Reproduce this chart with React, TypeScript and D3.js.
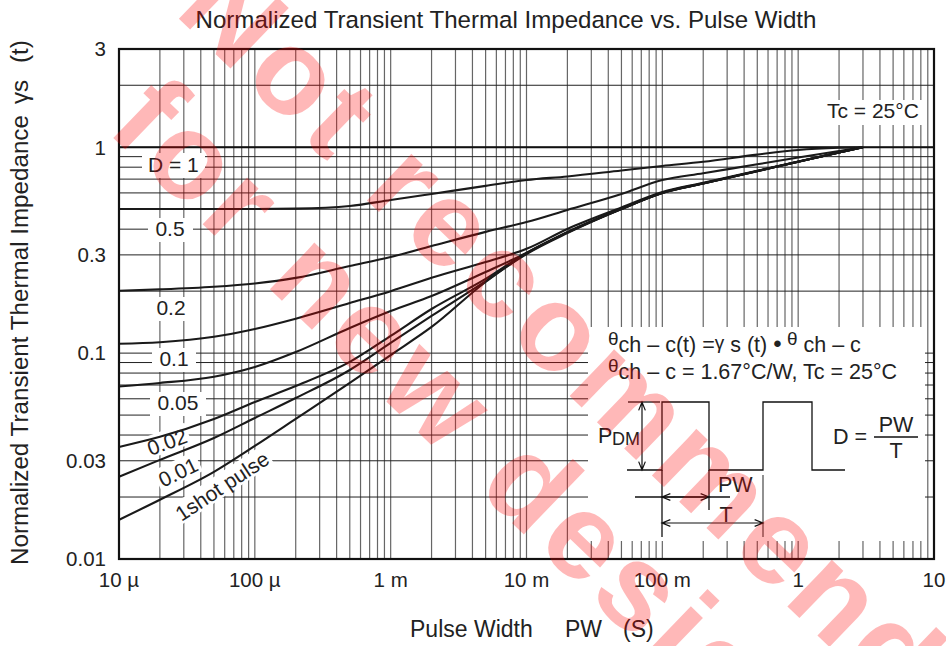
import * as d3 from "d3";

// pulse widths (s) the curves were read at
const pulseWidths = [1e-5, 2e-5, 5e-5, 1e-4, 2e-4, 5e-4, 1e-3, 2e-3, 5e-3, 1e-2, 2e-2, 5e-2, 0.1, 0.2, 0.5, 1, 2, 3];

const dutyHalf = [0.501, 0.501, 0.501, 0.501, 0.503, 0.518, 0.554, 0.593, 0.649, 0.693, 0.721, 0.771, 0.811, 0.85, 0.921, 0.97, 0.994, 1];
const dutyFifth = [0.201, 0.204, 0.21, 0.218, 0.232, 0.265, 0.293, 0.331, 0.388, 0.433, 0.496, 0.593, 0.693, 0.748, 0.826, 0.891, 0.959, 1];
const dutyTenth = [0.111, 0.113, 0.12, 0.131, 0.147, 0.175, 0.2, 0.232, 0.277, 0.321, 0.401, 0.51, 0.606, 0.672, 0.769, 0.852, 0.944, 1];
const duty005 = [0.0689, 0.0716, 0.0768, 0.0856, 0.1012, 0.1325, 0.1602, 0.1894, 0.2478, 0.3064, 0.388, 0.503, 0.601, 0.668, 0.766, 0.851, 0.943, 1];
const duty002 = [0.035, 0.0392, 0.0479, 0.0579, 0.0692, 0.0906, 0.1212, 0.1638, 0.2293, 0.307, 0.386, 0.502, 0.6, 0.667, 0.766, 0.85, 0.943, 1];
const duty001 = [0.0251, 0.0303, 0.0387, 0.0484, 0.0605, 0.0828, 0.112, 0.1515, 0.2238, 0.305, 0.385, 0.501, 0.599, 0.666, 0.765, 0.85, 0.943, 1];
const singleShot = [0.0155, 0.0194, 0.0265, 0.0354, 0.0479, 0.0716, 0.0979, 0.134, 0.2216, 0.303, 0.383, 0.501, 0.599, 0.666, 0.765, 0.85, 0.943, 1];

// D = 1 is flat across the whole range
const dutyOneWidths = [1e-5, 10];
const dutyOne = [1, 1];

const xTickValues = [1e-5, 1e-4, 1e-3, 1e-2, 1e-1, 1, 10];
const xTickLabels = ["10 µ", "100 µ", "1 m", "10 m", "100 m", "1", "10"];
const yTickValues = [3, 1, 0.3, 0.1, 0.03, 0.01];
const yTickLabels = ["3", "1", "0.3", "0.1", "0.03", "0.01"];

const W = 946;
const H = 646;
const PLOT = { left: 119, right: 934, top: 49, bottom: 559 };
const FONT = "'Liberation Sans', Arial, sans-serif";

const x = d3.scaleLog().domain([1e-5, 10]).range([PLOT.left, PLOT.right]);
const y = d3.scaleLog().domain([0.01, 3]).range([PLOT.bottom, PLOT.top]);

const series = [dutyHalf, dutyFifth, dutyTenth, duty005, duty002, duty001, singleShot];

const line = d3
  .line<number>()
  .x((_, i) => x(pulseWidths[i]))
  .y((v) => y(v))
  .curve(d3.curveMonotoneX);

// curve labels: straight ones get a box, slanted ones get rotated
const flatLabels = [
  { text: "D = 1", x: 148, y: 172, anchor: "start", box: [142, 153, 63, 25] },
  { text: "0.5", x: 170, y: 236, anchor: "middle", box: [148, 218, 45, 24] },
  { text: "0.2", x: 171, y: 315, anchor: "middle", box: [148, 297, 45, 24] },
  { text: "0.1", x: 174, y: 366, anchor: "middle", box: [152, 348, 44, 24] },
  { text: "0.05", x: 178, y: 410, anchor: "middle", box: [150, 392, 56, 24] },
];
const slantLabels = [
  { text: "0.02", cx: 167, cy: 442, angle: -20, w: 46 },
  { text: "0.01", cx: 178, cy: 472, angle: -26, w: 46 },
  { text: "1shot pulse", cx: 222, cy: 486, angle: -33.5, w: 112 },
];

function Arrow({ x1, y1, x2, y2 }: { x1: number; y1: number; x2: number; y2: number }) {
  // shaft plus open V heads at both ends
  const a = Math.atan2(y2 - y1, x2 - x1);
  const L = 9;
  const s = 0.38;
  const head = (px: number, py: number, dir: number) =>
    `M${px + L * Math.cos(dir + s)},${py + L * Math.sin(dir + s)}L${px},${py}L${px + L * Math.cos(dir - s)},${py + L * Math.sin(dir - s)}`;
  return (
    <path
      d={`M${x1},${y1}L${x2},${y2}` + head(x1, y1, a) + head(x2, y2, a + Math.PI)}
      fill="none"
      stroke="#111"
      strokeWidth={1.2}
    />
  );
}

export default function App() {
  const gridX = x.ticks().filter((t) => t > 1e-5 * 1.001 && t < 9.99);
  const gridY = y.ticks().filter((t) => t > 0.01 * 1.001 && t < 2.99);

  return (
    <>
      <style>{`body{margin:0}`}</style>
      <svg width={W} height={H} style={{ display: "block", background: "#fff" }} fontFamily={FONT}>
        <text x={506} y={28} textAnchor="middle" fontSize={24.1} fill="#222">
          Normalized Transient Thermal Impedance vs. Pulse Width
        </text>

        {/* grid */}
        {gridX.map((t) => (
          <line key={"gx" + t} x1={x(t)} x2={x(t)} y1={PLOT.top} y2={PLOT.bottom} stroke="#666" strokeWidth={1.2} />
        ))}
        {gridY.map((t) => (
          <line key={"gy" + t} x1={PLOT.left} x2={PLOT.right} y1={y(t)} y2={y(t)} stroke="#222" strokeWidth={1} />
        ))}

        {/* inset area blanks the grid */}
        <rect x={588} y={327} width={337} height={214} fill="#fff" />
        <rect x={824} y={100} width={101} height={25} fill="#fff" />

        {flatLabels.map((l) => (
          <rect key={"b" + l.text} x={l.box[0]} y={l.box[1]} width={l.box[2]} height={l.box[3]} fill="#fff" />
        ))}
        {slantLabels.map((l) => (
          <rect
            key={"b" + l.text}
            x={-l.w / 2}
            y={-12}
            width={l.w}
            height={22}
            fill="#fff"
            transform={`translate(${l.cx},${l.cy}) rotate(${l.angle})`}
          />
        ))}

        {/* curves */}
        <path
          d={d3.line<number>().x((_, i) => x(dutyOneWidths[i])).y((v) => y(v))(dutyOne) ?? ""}
          fill="none"
          stroke="#111"
          strokeWidth={2.2}
        />
        {series.map((s, i) => (
          <path key={"c" + i} d={line(s) ?? ""} fill="none" stroke="#1a1a1a" strokeWidth={2.1} />
        ))}

        <rect
          x={PLOT.left}
          y={PLOT.top}
          width={PLOT.right - PLOT.left}
          height={PLOT.bottom - PLOT.top}
          fill="none"
          stroke="#111"
          strokeWidth={2.2}
        />

        {/* curve labels */}
        {flatLabels.map((l) => (
          <text key={"t" + l.text} x={l.x} y={l.y} textAnchor={l.anchor} fontSize={21} fill="#222">
            {l.text}
          </text>
        ))}
        {slantLabels.map((l) => (
          <text
            key={"t" + l.text}
            textAnchor="middle"
            dy="0.36em"
            fontSize={21}
            fill="#222"
            transform={`translate(${l.cx},${l.cy}) rotate(${l.angle})`}
          >
            {l.text}
          </text>
        ))}

        {/* ticks */}
        {yTickValues.map((t, i) => (
          <text key={"yt" + t} x={106} y={y(t)} dy="0.36em" textAnchor="end" fontSize={20.5} fill="#222">
            {yTickLabels[i]}
          </text>
        ))}
        {xTickValues.map((t, i) => (
          <text key={"xt" + t} x={x(t)} y={587} textAnchor="middle" fontSize={20.5} fill="#222">
            {xTickLabels[i]}
          </text>
        ))}

        {/* axis titles */}
        <text x={410} y={637} fontSize={23} fill="#222">Pulse Width</text>
        <text x={565} y={637} fontSize={23} fill="#222">PW</text>
        <text x={623} y={637} fontSize={23} fill="#222">(S)</text>
        <g fontSize={24.2} fill="#222">
          <text transform="translate(28,565) rotate(-90)">Normalized Transient Thermal Impedance</text>
          <text transform="translate(28,104) rotate(-90)">γs</text>
          <text transform="translate(28,63) rotate(-90)">(t)</text>
        </g>

        <text x={827} y={118} fontSize={21} fill="#222">Tc = 25°C</text>

        {/* inset */}
        <g fontSize={21.5} fill="#222">
          <text x={608} y={352}>
            <tspan fontSize={19} dy={-7}>θ</tspan>
            <tspan dy={7}>ch – c(t) =</tspan>
            <tspan fontSize={19} dy={-3}>γ</tspan>
            <tspan dy={3}> s (t) </tspan>
            <tspan fontSize={24}>•</tspan>
            <tspan fontSize={19} dy={-7}> θ</tspan>
            <tspan dy={7}> ch – c</tspan>
          </text>
          <text x={608} y={379}>
            <tspan fontSize={19} dy={-7}>θ</tspan>
            <tspan dy={7}>ch – c = 1.67°C/W, Tc = 25°C</tspan>
          </text>
          <text x={598} y={443}>P</text>
          <text x={612} y={445} fontSize={18}>DM</text>
          <text x={718} y={492}>PW</text>
          <text x={726} y={522} textAnchor="middle">T</text>
          <text x={833} y={444}>D =</text>
          <text x={896} y={432} textAnchor="middle">PW</text>
          <text x={896} y={458} textAnchor="middle">T</text>
        </g>
        <g fill="none" stroke="#111" strokeWidth={1.3}>
          <path d="M627,470H662V402H709V470H763V402H812V470H845" />
          <path d="M628,402H660" />
          <path d="M874,437H918" />
          <path d="M635,497H730" />
          <path d="M662,470V537M709,470V510" />
          <path d="M763,475V537" stroke="#555" />
        </g>
        <Arrow x1={642} y1={402} x2={642} y2={470} />
        <Arrow x1={662} y1={497} x2={709} y2={497} />
        <Arrow x1={662} y1={523} x2={763} y2={523} />

        {/* watermark */}
        <g fontSize={122} fontWeight="bold" fill="#ff0000" fillOpacity={0.28} letterSpacing={6}>
          <text transform="translate(173,13) rotate(44)">Not recommended</text>
          <text transform="translate(105,130) rotate(44)">for new designs</text>
        </g>
      </svg>
    </>
  );
}
